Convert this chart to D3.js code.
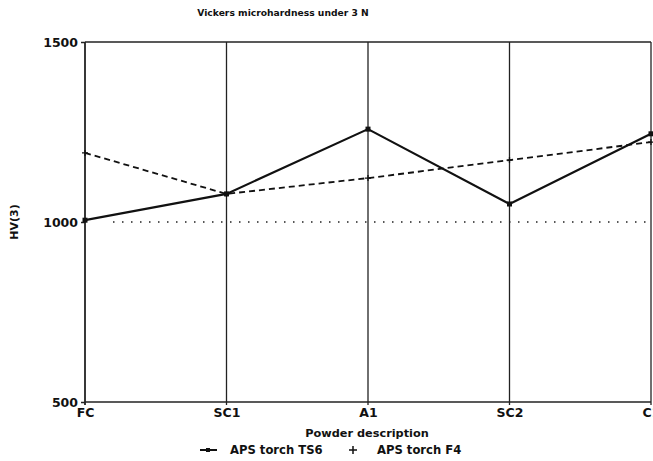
<!DOCTYPE html>
<html>
<head>
<meta charset="utf-8">
<script src="https://cdn.jsdelivr.net/npm/d3@7"></script>
<style>
  body { margin: 0; background: #fff; }
  svg { display: block; }
  text { font-family: "DejaVu Sans", Verdana, sans-serif; font-weight: bold; fill: #111; }
</style>
</head>
<body>
<svg id="chart" width="653" height="461"></svg>
<script>
// values
let categories = ["FC", "SC1", "A1", "SC2", "C1"]
let ts6 = [1005, 1078, 1258, 1050, 1245]
let f4 = [1192, 1078, 1122, 1172, 1222]
let refValue = 1000
let yTicks = [500, 1000, 1500]
let seriesNames = ["APS torch TS6", "APS torch F4"]

let svg = d3.select("#chart")

let x = d3.scalePoint().domain(categories).range([85, 651])
let y = d3.scaleLinear().domain([500, 1500]).range([402, 42])

// title
svg.append("text").attr("x", 283).attr("y", 15.5)
  .attr("text-anchor", "middle").attr("font-size", 9.2)
  .text("Vickers microhardness under 3 N")

// vertical lines at each category
svg.selectAll(".vline").data(categories).enter().append("line")
  .attr("x1", d => x(d)).attr("x2", d => x(d))
  .attr("y1", y(1500)).attr("y2", y(500) + 3)
  .attr("stroke", "#222").attr("stroke-width", d => d == "FC" ? 1.8 : 1.3)

// top and bottom frame lines
svg.selectAll(".hline").data([500, 1500]).enter().append("line")
  .attr("x1", x(categories[0])).attr("x2", x(categories[categories.length - 1]))
  .attr("y1", d => y(d)).attr("y2", d => y(d))
  .attr("stroke", "#222").attr("stroke-width", 1.5)

// y axis ticks + labels
let yAxis = svg.append("g").attr("transform", "translate(" + x(categories[0]) + ",0)")
  .call(d3.axisLeft(y).tickValues(yTicks).tickSize(4).tickPadding(3).tickFormat(d3.format("d")))
yAxis.select(".domain").remove()
yAxis.selectAll("line").attr("stroke", "#222").attr("stroke-width", 1.5)
yAxis.selectAll("text").attr("font-size", 12.5).attr("font-family", null).attr("fill", "#111")

// x labels
let xAxis = svg.append("g").attr("transform", "translate(0," + y(500) + ")")
  .call(d3.axisBottom(x).tickSize(0).tickPadding(6))
xAxis.select(".domain").remove()
xAxis.selectAll("text").attr("font-size", 12.5).attr("font-family", null).attr("fill", "#111")

// axis titles
svg.append("text").attr("transform", "translate(18," + y(1000) + ") rotate(-90)")
  .attr("text-anchor", "middle").attr("font-size", 11).text("HV(3)")
svg.append("text").attr("x", 367).attr("y", 437)
  .attr("text-anchor", "middle").attr("font-size", 11.3).text("Powder description")

// dotted reference line
svg.append("line")
  .attr("x1", x(categories[0]) + 28).attr("x2", x(categories[categories.length - 1]))
  .attr("y1", y(refValue)).attr("y2", y(refValue))
  .attr("stroke", "#222").attr("stroke-width", 1.4).attr("stroke-dasharray", "1.5,7.5")

let line = d3.line().x((d, i) => x(categories[i])).y(d => y(d))

// F4 dashed
svg.append("path").datum(f4).attr("d", line)
  .attr("fill", "none").attr("stroke", "#111").attr("stroke-width", 1.8)
  .attr("stroke-dasharray", "6,4")
svg.selectAll(".plus").data(f4).enter().append("path")
  .attr("d", (d, i) => "M" + (x(categories[i]) - 3) + "," + y(d) + "h6M" + x(categories[i]) + "," + (y(d) - 3) + "v6")
  .attr("stroke", "#111").attr("stroke-width", 1.3)

// TS6 solid
svg.append("path").datum(ts6).attr("d", line)
  .attr("fill", "none").attr("stroke", "#111").attr("stroke-width", 2.2)
svg.selectAll(".sq").data(ts6).enter().append("rect")
  .attr("x", (d, i) => x(categories[i]) - 2.5).attr("y", d => y(d) - 2.5)
  .attr("width", 5).attr("height", 5).attr("fill", "#111")

// legend
let lg = svg.append("g").attr("transform", "translate(0,454)")
lg.append("line").attr("x1", 200).attr("x2", 217).attr("y1", -4).attr("y2", -4)
  .attr("stroke", "#111").attr("stroke-width", 2)
lg.append("rect").attr("x", 206).attr("y", -6).attr("width", 4).attr("height", 4).attr("fill", "#111")
lg.append("text").attr("x", 230).attr("font-size", 11.6).text(seriesNames[0])
lg.append("path").attr("d", "M349,-4h8M353,-8v8").attr("stroke", "#111").attr("stroke-width", 1.5)
lg.append("text").attr("x", 377).attr("font-size", 11.6).text(seriesNames[1])
</script>
</body>
</html>
